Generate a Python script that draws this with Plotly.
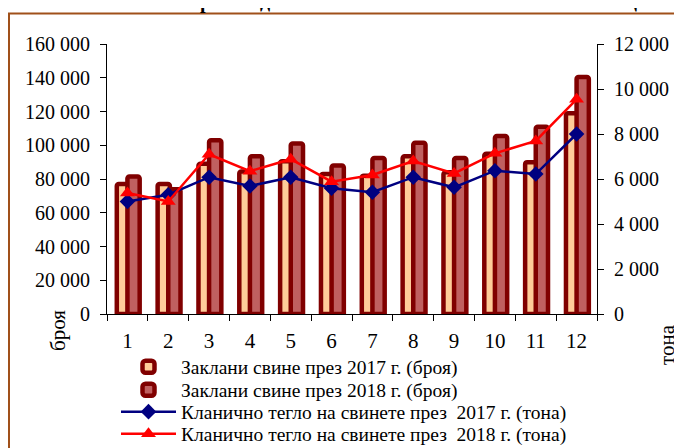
import plotly.graph_objects as go

months = ["1", "2", "3", "4", "5", "6", "7", "8", "9", "10", "11", "12"]
pigs_2017 = [77000, 77000, 89000, 84500, 90500, 83000, 82000, 93500, 84000, 95000, 90000, 119000]
pigs_2018 = [81500, 74000, 103000, 93500, 101000, 88000, 92500, 101500, 92500, 105500, 111000, 140500]
weight_2017 = [5000, 5300, 6080, 5690, 6080, 5590, 5410, 6080, 5630, 6370, 6220, 8000]
weight_2018 = [5380, 5000, 7100, 6350, 6880, 5880, 6180, 6800, 6250, 7140, 7690, 9540]

names = [
    "Заклани свине през 2017 г. (броя)",
    "Заклани свине през 2018 г. (броя)",
    "Кланично тегло на свинете през  2017 г. (тона)",
    "Кланично тегло на свинете през  2018 г. (тона)",
]

FONT = "Liberation Serif"
OFF = 8  # page body margin
W, H = 682 - OFF, 448 - OFF


def fx(px):
    return px - OFF


def fy(py):
    return py - OFF


L, T = fx(107), fy(44)
R, B = W - fx(597), H - fy(314)
PW, PH = W - L - R, H - T - B

fig = go.Figure()
fig.add_trace(go.Bar(
    x=months, y=pigs_2017, name=names[0], legend="legend",
    width=0.3, offset=-0.26,
    marker=dict(color="#FFCC99", line=dict(color="#800000", width=4.5)),
))
fig.add_trace(go.Bar(
    x=months, y=pigs_2018, name=names[1], legend="legend2",
    width=0.3, offset=0.0,
    marker=dict(color="#C06060", line=dict(color="#800000", width=4.5)),
))
fig.add_trace(go.Scatter(
    x=months, y=weight_2017, name=names[2], yaxis="y2", legend="legend3",
    mode="lines+markers",
    line=dict(color="#000080", width=2.5),
    marker=dict(symbol="diamond", size=12, color="#000080"),
))
fig.add_trace(go.Scatter(
    x=months, y=weight_2018, name=names[3], yaxis="y2", legend="legend4",
    mode="lines+markers",
    line=dict(color="#FF0000", width=2.5),
    marker=dict(symbol="triangle-up", size=13, color="#FF0000"),
))


def leg(row_y):
    return dict(
        xref="container", yref="container",
        x=fx(116) / W, y=(H - fy(row_y)) / H, xanchor="left", yanchor="middle",
        font=dict(family=FONT, size=19.5, color="#000000"),
        bgcolor="rgba(0,0,0,0)", itemwidth=55,
    )


fig.update_layout(
    width=W, height=H,
    margin=dict(l=L, r=R, t=T, b=B, autoexpand=False),
    paper_bgcolor="white", plot_bgcolor="white",
    barmode="overlay", barcornerradius=2,
    separators=", ",
    font=dict(family=FONT, color="#000000", size=19),
    showlegend=True,
    legend=leg(367), legend2=leg(390), legend3=leg(412), legend4=leg(434),
    xaxis=dict(
        type="category", range=[-0.5, 11.5],
        showline=True, linecolor="#000000", linewidth=1,
        ticks="outside", tickson="boundaries", ticklen=6, tickcolor="#000000",
        tickfont=dict(family=FONT, size=21), ticklabelstandoff=8,
        showgrid=False, automargin=False,
    ),
    yaxis=dict(
        range=[0, 160000], dtick=20000, tickformat=",.0f",
        showline=True, linecolor="#000000", linewidth=1,
        ticks="outside", ticklen=6, tickcolor="#000000",
        tickfont=dict(family=FONT, size=20), ticklabelstandoff=6,
        showgrid=False, zeroline=False, automargin=False,
    ),
    yaxis2=dict(
        range=[0, 12000], dtick=2000, tickformat=",.0f",
        overlaying="y", side="right",
        showline=True, linecolor="#000000", linewidth=1,
        ticks="outside", ticklen=6, tickcolor="#000000",
        tickfont=dict(family=FONT, size=20), ticklabelstandoff=6,
        showgrid=False, zeroline=False, automargin=False,
    ),
    shapes=[dict(
        type="rect", xref="paper", yref="paper",
        x0=(1 - L) / PW, x1=1.3, y0=-0.6, y1=(H - B - fy(13.5)) / PH,
        line=dict(color="#A0501A", width=2), fillcolor="rgba(0,0,0,0)", layer="below",
    )],
    annotations=[
        dict(text="броя", xref="paper", yref="paper",
             x=(fx(58) - L) / PW, y=(H - B - fy(331)) / PH, textangle=-90,
             xanchor="center", yanchor="middle",
             showarrow=False, font=dict(family=FONT, size=21)),
        dict(text="тона", xref="paper", yref="paper",
             x=(fx(667) - L) / PW, y=(H - B - fy(345)) / PH, textangle=-90,
             xanchor="center", yanchor="middle",
             showarrow=False, font=dict(family=FONT, size=21)),
        dict(text="<b>Заклани свине и произведено кланично тегло на свинете в кланиците</b>",
             xref="paper", yref="paper",
             x=(fx(350) - L) / PW, y=(H - B - fy(1.5)) / PH,
             xanchor="center", yanchor="middle",
             showarrow=False, font=dict(family=FONT, size=20)),
    ],
)

fig.write_html("out.html")
